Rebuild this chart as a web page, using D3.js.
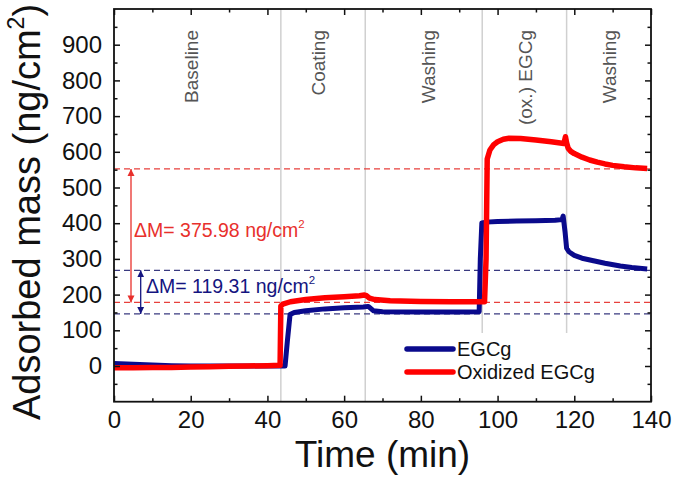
<!DOCTYPE html>
<html><head><meta charset="utf-8">
<script src="https://cdn.jsdelivr.net/npm/d3@7"></script>
<style>
body{margin:0;background:#fff;}
svg{display:block;font-family:"Liberation Sans",Arial,sans-serif;}
</style></head>
<body>
<svg id="chart" width="675" height="484"></svg>
<script>
// ---- data ----
const xTicks = [0, 20, 40, 60, 80, 100, 120, 140];
const yTicks = [0, 100, 200, 300, 400, 500, 600, 700, 800, 900];

const egcgTime = [0, 5, 10, 15, 20, 30, 40, 44.6, 45.2, 45.9, 47, 50, 55, 60, 65, 66.3, 67.6, 70, 80, 90, 95.2, 95.5, 95.9, 97, 100, 105, 110, 115, 116.8, 117.1, 117.6, 118, 118.6, 120, 122, 125, 128, 132, 135, 139];
const egcgMass = [7, 5, 3, 1, 0, 0, 0, 0, 70, 144, 150, 155, 160, 163, 165, 167, 155, 152, 151, 151, 152, 300, 401, 403, 405, 406, 407, 408, 410, 420, 375, 330, 320, 310, 302, 295, 288, 280, 276, 272];

const oxTime = [0, 5, 10, 15, 20, 25, 30, 35, 40, 43.3, 43.5, 44, 46, 50, 55, 60, 64, 65.3, 65.8, 66.6, 68, 72, 80, 88, 96.6, 97, 97.3, 98, 99, 100, 101.5, 103, 106, 110, 114, 117.3, 117.7, 118, 118.4, 119, 120, 122, 124, 126, 128, 130, 133, 136, 139];
const oxMass = [-5, -5, -4, -4, -3, -2, -1, 0, 1, 2, 168, 173, 180, 186, 191, 194, 197, 199, 197, 190, 186, 183, 181, 180, 180, 300, 580, 605, 620, 628, 635, 638, 637, 633, 628, 623, 642, 625, 610, 602, 595, 585, 577, 571, 566, 562, 558, 555, 553];

const phaseBoundaries = [43.5, 65.5, 96, 118];
const phaseLabels = ["Baseline", "Coating", "Washing", "(ox.) EGCg", "Washing"];
const phaseLabelTime = [20.2, 53.3, 82, 107.2, 129];

const oxLevels = [178, 552];     // red dashed reference levels
const egcgLevels = [146, 268];   // blue dashed reference levels
const deltaLabels = ["375.98", "119.31"];

const seriesNames = ["EGCg", "Oxidized EGCg"];
const seriesColors = ["#0a0a8c", "#ff0000"];

// ---- layout ----
const svg = d3.select("#chart");
const L = 114, R = 651, T = 9, B = 401.7;
const x = d3.scaleLinear().domain([0, 140]).range([L, R]);
const y = d3.scaleLinear().domain([-100, 1000]).range([B, T]);

// gray phase separators
phaseBoundaries.forEach((t, i) => {
  svg.append("line").attr("x1", x(t)).attr("x2", x(t))
    .attr("y1", T).attr("y2", i >= 2 ? 333 : B)
    .attr("stroke", "#d0d0d0").attr("stroke-width", 1.5);
});

// phase labels
phaseLabels.forEach((s, i) => {
  svg.append("text")
    .attr("transform", `translate(${x(phaseLabelTime[i])},30) rotate(-90)`)
    .attr("text-anchor", "end").attr("dy", "0.36em")
    .attr("font-size", 19).attr("fill", "#555").text(s);
});

// dashed levels
function dashed(v, color) {
  svg.append("line").attr("x1", L).attr("x2", R)
    .attr("y1", y(v)).attr("y2", y(v))
    .attr("stroke", color).attr("stroke-width", 1.3)
    .attr("stroke-dasharray", "6,4");
}
oxLevels.forEach(v => dashed(v, "#e8403c"));
egcgLevels.forEach(v => dashed(v, "#3a3a80"));

// arrows
const defs = svg.append("defs");
function marker(id, color) {
  defs.append("marker").attr("id", id).attr("viewBox", "0 0 10 10")
    .attr("refX", 10).attr("refY", 5).attr("markerWidth", 7).attr("markerHeight", 9)
    .attr("markerUnits", "userSpaceOnUse")
    .attr("orient", "auto-start-reverse")
    .append("path").attr("d", "M0,0 L10,5 L0,10 Z").attr("fill", color);
}
marker("ar", "#e8302c");
marker("ab", "#141480");
function arrow(xp, v0, v1, color, id) {
  svg.append("line").attr("x1", xp).attr("x2", xp)
    .attr("y1", y(v1)).attr("y2", y(v0))
    .attr("stroke", color).attr("stroke-width", 1.3)
    .attr("marker-start", `url(#${id})`).attr("marker-end", `url(#${id})`);
}
arrow(131, oxLevels[0], oxLevels[1], "#e8302c", "ar");
arrow(140.7, egcgLevels[0], egcgLevels[1], "#141480", "ab");

function deltaText(xp, yp, val, color) {
  const t = svg.append("text").attr("x", xp).attr("y", yp)
    .attr("font-size", 19.5).attr("fill", color);
  t.append("tspan").text(`\u0394M= ${val} ng/cm`);
  t.append("tspan").attr("font-size", 11.5).attr("dy", -9).text("2");
}
deltaText(134, 237, deltaLabels[0], "#e8302c");
deltaText(146, 293, deltaLabels[1], "#141480");

// data lines
const line = d3.line().x(d => x(d[0])).y(d => y(d[1]));
const seriesData = [
  d3.zip(egcgTime, egcgMass),
  d3.zip(oxTime, oxMass)
];
svg.append("path").datum(seriesData[0]).attr("d", line)
  .attr("fill", "none").attr("stroke", seriesColors[0]).attr("stroke-width", 5)
  .attr("stroke-linejoin", "round");
svg.append("path").datum(seriesData[1]).attr("d", line)
  .attr("fill", "none").attr("stroke", seriesColors[1]).attr("stroke-width", 5.5)
  .attr("stroke-linejoin", "round");

// legend
svg.append("rect").attr("x", 398).attr("y", 334).attr("width", 205).attr("height", 64).attr("fill", "#fff");
seriesNames.forEach((n, i) => {
  const ly = 349 + i * 23;
  svg.append("line").attr("x1", 407).attr("x2", 453).attr("y1", ly).attr("y2", ly)
    .attr("stroke", seriesColors[i]).attr("stroke-width", 5.5).attr("stroke-linecap", "round");
  svg.append("text").attr("x", 457).attr("y", ly).attr("dy", "0.36em")
    .attr("font-size", 20).attr("fill", "#111").text(n);
});

// axes
const xMinor = d3.range(10, 140, 20);
const yMinor = d3.range(-50, 1000, 100);
function axisGroup(axis, tx, ty) {
  const g = svg.append("g").attr("transform", `translate(${tx},${ty})`).call(axis);
  g.select(".domain").remove();
  g.selectAll("line").attr("stroke", "#111").attr("stroke-width", 1.5);
  return g;
}
const gx = axisGroup(d3.axisBottom(x).tickValues(xTicks).tickSize(-6).tickPadding(9).tickFormat(d3.format("d")), 0, B);
gx.selectAll("text").attr("font-size", 24).attr("fill", "#111").attr("font-family", "Liberation Sans, Arial, sans-serif");
axisGroup(d3.axisBottom(x).tickValues(xMinor).tickSize(-3.5).tickFormat(""), 0, B);
axisGroup(d3.axisTop(x).tickValues(xTicks).tickSize(-6).tickFormat(""), 0, T);
axisGroup(d3.axisTop(x).tickValues(xMinor).tickSize(-3.5).tickFormat(""), 0, T);

const gy = axisGroup(d3.axisLeft(y).tickValues(yTicks).tickSize(-6).tickPadding(12).tickFormat(d3.format("d")), L, 0);
gy.selectAll("text").attr("font-size", 24).attr("fill", "#111").attr("font-family", "Liberation Sans, Arial, sans-serif");
axisGroup(d3.axisLeft(y).tickValues(yMinor).tickSize(-3.5).tickFormat(""), L, 0);
axisGroup(d3.axisRight(y).tickValues(yTicks).tickSize(-6).tickFormat(""), R, 0);
axisGroup(d3.axisRight(y).tickValues(yMinor).tickSize(-3.5).tickFormat(""), R, 0);

svg.append("rect").attr("x", L).attr("y", T).attr("width", R - L).attr("height", B - T)
  .attr("fill", "none").attr("stroke", "#111").attr("stroke-width", 1.8);

// axis titles
svg.append("text").attr("x", (L + R) / 2).attr("y", 467).attr("text-anchor", "middle")
  .attr("font-size", 37).attr("fill", "#111").text("Time (min)");
const yt = svg.append("text").attr("transform", "translate(40,212) rotate(-90)")
  .attr("text-anchor", "middle").attr("font-size", 38).attr("fill", "#111");
yt.append("tspan").text("Adsorbed mass (ng/cm");
yt.append("tspan").attr("font-size", 23).attr("dy", -16).text("2");
yt.append("tspan").attr("dy", 16).text(")");
</script>
</body></html>
